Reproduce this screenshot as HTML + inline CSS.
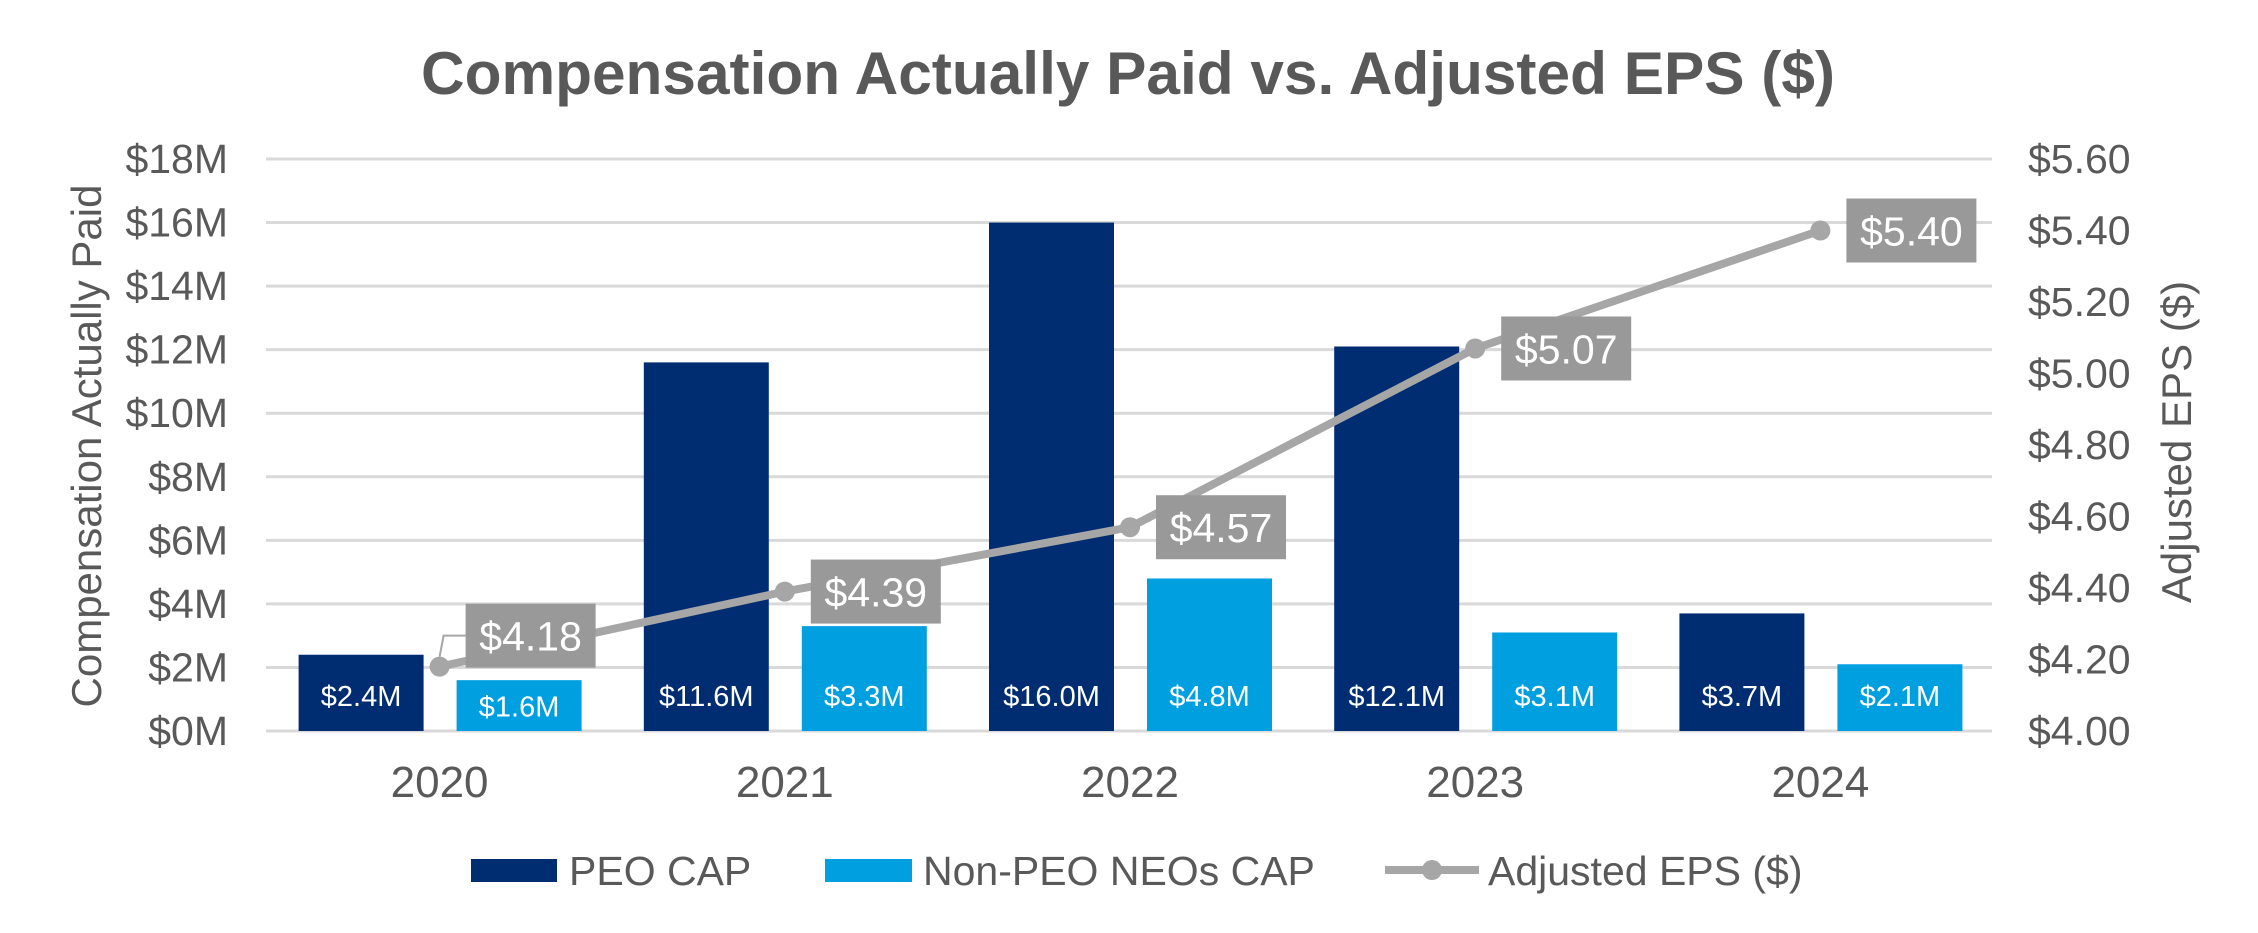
<!DOCTYPE html>
<html><head><meta charset="utf-8"><style>
html,body{margin:0;padding:0;background:#fff;}
svg{display:block;font-family:"Liberation Sans",Arial,sans-serif;}
</style></head><body>
<svg id="chart" width="2258" height="933" viewBox="0 0 2258 933" xmlns="http://www.w3.org/2000/svg">
<text x="1128" y="94" text-anchor="middle" font-size="60" font-weight="bold" fill="#595959" textLength="1414" lengthAdjust="spacingAndGlyphs">Compensation  Actually Paid vs. Adjusted EPS ($)</text>
<g id="grid"></g>
<g id="bars"></g>
<g id="line"></g>
<g id="axes"></g>
<text transform="translate(101,446) rotate(-90)" text-anchor="middle" font-size="42" fill="#595959">Compensation Actually Paid</text>
<text transform="translate(2191,442) rotate(-90)" text-anchor="middle" font-size="42" fill="#595959">Adjusted EPS ($)</text>
<g>
  <rect x="471" y="859" width="86" height="23" fill="#002d72"/>
  <text x="569" y="885" font-size="41" fill="#595959">PEO CAP</text>
  <rect x="825" y="859" width="87" height="23" fill="#009fdf"/>
  <text x="923" y="885" font-size="41" fill="#595959">Non-PEO NEOs CAP</text>
  <line x1="1385" y1="870" x2="1479" y2="870" stroke="#a6a6a6" stroke-width="8"/>
  <circle cx="1432" cy="870" r="10" fill="#a6a6a6"/>
  <text x="1488" y="885" font-size="41" fill="#595959">Adjusted EPS ($)</text>
</g>
</svg>
<script>
const categories = ["2020","2021","2022","2023","2024"];
const peoCap = [2.4, 11.6, 16.0, 12.1, 3.7];
const neoCap = [1.6, 3.3, 4.8, 3.1, 2.1];
const eps = [4.18, 4.39, 4.57, 5.07, 5.40];
const leftTicks = [0,2,4,6,8,10,12,14,16,18];
const rightTicks = [4.00,4.20,4.40,4.60,4.80,5.00,5.20,5.40,5.60];

const NS="http://www.w3.org/2000/svg";
const PL=266, PR=1992, PT=159, PB=731;
const yL = v => PB - (v-0)/(18-0)*(PB-PT);
const yR = v => PB - (v-4)/(5.6-4)*(PB-PT);
const band = (PR-PL)/categories.length;
const xC = i => PL + band*(i+0.5);
function mk(tag, attrs, parent){const e=document.createElementNS(NS,tag);for(const k in attrs)e.setAttribute(k,attrs[k]);parent.appendChild(e);return e;}
const grid=document.getElementById('grid'), bars=document.getElementById('bars'), line=document.getElementById('line'), axes=document.getElementById('axes');

leftTicks.forEach(t=>{
  const g=mk('line',{x1:PL,x2:PR,y1:yL(t),y2:yL(t),stroke:'#d9d9d9','stroke-width':3},grid);
  
  
  const l=mk('text',{x:228,y:yL(t)+14,'text-anchor':'end','font-size':41,fill:'#595959'},axes);
  l.textContent='$'+t+'M';
  
  
});
rightTicks.forEach(t=>{
  const l=mk('text',{x:2028,y:yR(t)+14,'font-size':41,fill:'#595959'},axes);
  l.textContent='$'+t.toFixed(2);
  
  
});
const BW=125, GAP=33;
categories.forEach((c,i)=>{
  const cx=xC(i);
  const x1=cx-GAP/2-BW+1.5, x2=cx+GAP/2+1.5;
  const b1=mk('rect',{x:x1,y:yL(peoCap[i]),width:BW,height:PB-yL(peoCap[i]),fill:'#002d72'},bars);
  
  
  const b2=mk('rect',{x:x2,y:yL(neoCap[i]),width:BW,height:PB-yL(neoCap[i]),fill:'#009fdf'},bars);
  
  
  const t1=mk('text',{x:x1+BW/2,y:706,'text-anchor':'middle','font-size':29,fill:'#fff'},bars);
  t1.textContent='$'+peoCap[i].toFixed(1)+'M';
  
  
  const h=PB-yL(neoCap[i]);
  const ny = h<60 ? (yL(neoCap[i])+PB)/2+11 : 706;
  const t2=mk('text',{x:x2+BW/2,y:ny,'text-anchor':'middle','font-size':29,fill:'#fff'},bars);
  t2.textContent='$'+neoCap[i].toFixed(1)+'M';
  
  
  const xl=mk('text',{x:cx+1,y:797,'text-anchor':'middle','font-size':44,fill:'#595959'},axes);
  xl.textContent=c;
  
  
});
const pts=eps.map((v,i)=>[xC(i)+1,yR(v)]);
const pl=mk('polyline',{points:pts.map(p=>p.join(',')).join(' '),fill:'none',stroke:'#a6a6a6','stroke-width':8,'stroke-linejoin':'round'},line);


pts.forEach((p,i)=>{
  const dy = i===0 ? -31 : 0;
  if(i===0){
    const ld=mk('polyline',{points:`${p[0]},${p[1]-10} ${p[0]+4},${p[1]-31} ${p[0]+26},${p[1]-31}`,fill:'none',stroke:'#a6a6a6','stroke-width':2},line);
    
    
  }
  const bx=mk('rect',{x:p[0]+26,y:p[1]+dy-32,width:130,height:64,fill:'#999999'},line);
  
  
  const tx=mk('text',{x:p[0]+26+65,y:p[1]+dy+15,'text-anchor':'middle','font-size':41,fill:'#fff'},line);
  tx.textContent='$'+eps[i].toFixed(2);
  
  
  const c=mk('circle',{cx:p[0],cy:p[1],r:10,fill:'#a6a6a6'},line);
  
  
});
</script>
</body></html>
